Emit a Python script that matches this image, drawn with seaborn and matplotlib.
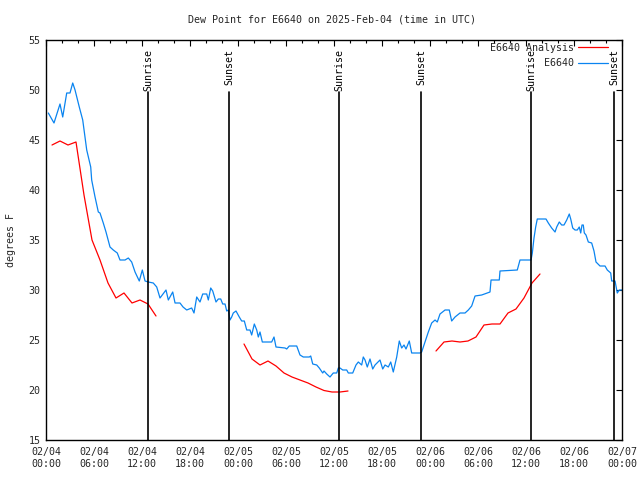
import matplotlib
matplotlib.use("Agg")
import matplotlib.pyplot as plt
import seaborn as sns
import pandas as pd
import numpy as np
from matplotlib.ticker import MultipleLocator, FixedLocator

# ---- data (hours since 2025-02-04 00:00 UTC) ----
obs_hours = [0.29, 1.0, 1.75, 2.09, 2.59, 3.0, 3.34, 3.63, 4.16, 4.59, 4.88, 5.09, 5.59, 5.71,
             6.13, 6.54, 6.75, 7.16, 7.5, 8.0, 8.41, 8.91, 9.25, 9.88, 10.29, 10.71, 11.13, 11.66,
             12.04, 12.38, 12.79, 13.41, 13.84, 14.25, 15.0, 15.29, 15.84, 16.13, 16.75, 17.13,
             17.59, 18.21, 18.5, 18.84, 19.25, 19.59, 20.09, 20.29, 20.59, 20.84, 21.25, 21.54,
             21.84, 22.09, 22.38, 22.59, 22.79, 23.0, 23.21, 23.41, 23.75, 24.16, 24.46, 24.79,
             25.09, 25.5, 25.71, 26.04, 26.34, 26.54, 26.75, 27.04, 28.21, 28.5, 28.75, 29.88,
             30.09, 30.41, 31.34, 31.75, 32.16, 32.91, 33.09, 33.34, 33.84, 34.16, 34.59, 34.75,
             35.09, 35.5, 35.91, 36.34, 36.54, 36.75, 37.09, 37.59, 37.79, 38.34, 38.75, 39.04,
             39.46, 39.66, 39.88, 40.16, 40.5, 40.84, 41.13, 41.75, 42.09, 42.38, 42.79, 43.09,
             43.41, 43.84, 44.16, 44.46, 44.75, 45.0, 45.41, 45.71, 46.75, 46.96, 47.38, 47.79,
             48.21, 48.63, 48.91, 49.25, 49.88, 50.41, 50.71, 51.13, 51.75, 52.38, 52.79, 53.21,
             53.63, 54.46, 55.5, 55.63, 56.66, 56.75, 58.91, 59.25, 60.63, 60.79, 61.0, 61.21,
             61.41, 62.5, 62.79, 63.21, 63.63, 63.84, 64.16, 64.46, 64.75, 65.09, 65.41, 65.59,
             65.84, 66.13, 66.41, 66.66, 66.84, 67.0, 67.16, 67.29, 67.5, 67.79, 68.21, 68.5,
             68.75, 69.25, 69.88, 70.16, 70.59, 70.71, 71.13, 71.41, 71.66, 72.0]
obs_dewpt = [47.7, 46.7, 48.6, 47.3, 49.7, 49.7, 50.7, 50.0, 48.3, 47.0, 45.3, 44.0, 42.3, 41.0,
             39.3, 37.8, 37.7, 36.7, 35.8, 34.3, 34.0, 33.7, 33.0, 33.0, 33.2, 32.8, 31.8, 30.9,
             32.0, 30.9, 30.8, 30.7, 30.3, 29.2, 30.0, 29.0, 29.8, 28.7, 28.7, 28.3,
             28.0, 28.2, 27.7, 29.3, 28.8, 29.6, 29.6, 29.0, 30.2, 29.9, 28.8, 29.1,
             29.1, 28.6, 28.6, 27.9, 28.0, 27.0, 27.3, 27.7, 27.9, 27.3, 26.9, 26.9,
             26.0, 26.0, 25.5, 26.6, 26.0, 25.3, 25.8, 24.8, 24.8, 25.3, 24.3, 24.2,
             24.1, 24.4, 24.4, 23.5, 23.3, 23.3, 23.4, 22.6, 22.5, 22.2, 21.7, 21.9,
             21.6, 21.3, 21.7, 21.7, 22.2, 22.2, 22.0, 22.0, 21.7, 21.7, 22.5, 22.8,
             22.5, 23.3, 23.0, 22.3, 23.1, 22.1, 22.5, 23.0, 22.1, 22.5, 22.3, 22.8,
             21.8, 23.3, 24.9, 24.2, 24.5, 24.1, 24.9, 23.7, 23.7, 23.8, 24.8, 25.8,
             26.7, 27.0, 26.8, 27.6, 28.0, 28.0, 26.9, 27.3, 27.7, 27.7, 28.0, 28.4,
             29.4, 29.5, 29.8, 31.0, 31.0, 31.9, 32.0, 33.0, 33.0, 33.7, 35.2, 36.3,
             37.1, 37.1, 36.7, 36.2, 35.8, 36.3, 36.8, 36.5, 36.5, 37.0, 37.6, 37.1,
             36.2, 36.0, 36.0, 36.3, 35.7, 36.5, 36.5, 35.7, 35.5, 34.8, 34.7, 33.9,
             32.8, 32.4, 32.4, 32.0, 31.7, 30.9, 30.9, 29.7, 30.0, 30.0]

ana_seg1_hours = [0.75, 1.75, 2.75, 3.75, 4.75, 5.75, 6.75, 7.75, 8.75, 9.75, 10.75, 11.75, 12.75, 13.75]
ana_seg1_dewpt = [44.5, 44.9, 44.5, 44.8, 39.5, 35.0, 33.0, 30.7, 29.2, 29.7, 28.7, 29.0, 28.6, 27.4]
ana_seg2_hours = [24.75, 25.75, 26.75, 27.75, 28.75, 29.75, 30.75, 31.75, 32.75, 33.75, 34.75, 35.75, 36.75, 37.75]
ana_seg2_dewpt = [24.6, 23.1, 22.5, 22.9, 22.4, 21.7, 21.3, 21.0, 20.7, 20.3, 19.95, 19.8, 19.8, 19.9]
ana_seg3_hours = [48.75, 49.75, 50.75, 51.75, 52.75, 53.75, 54.75, 55.75, 56.75, 57.75, 58.75, 59.75, 60.75, 61.75]
ana_seg3_dewpt = [23.9, 24.8, 24.9, 24.8, 24.9, 25.3, 26.5, 26.6, 26.6, 27.7, 28.1, 29.2, 30.7, 31.6]

sun_labels = ["Sunrise", "Sunset", "Sunrise", "Sunset", "Sunrise", "Sunset"]
sun_hours = [12.75, 22.88, 36.63, 46.88, 60.63, 71.0]

tick_hours = list(range(0, 73, 6))
tick_labels = ["02/04\n00:00", "02/04\n06:00", "02/04\n12:00", "02/04\n18:00",
               "02/05\n00:00", "02/05\n06:00", "02/05\n12:00", "02/05\n18:00",
               "02/06\n00:00", "02/06\n06:00", "02/06\n12:00", "02/06\n18:00",
               "02/07\n00:00"]

title = "Dew Point for E6640 on 2025-Feb-04 (time in UTC)"

# ---- style ----
sns.set_style("white")
FS = 7.2
plt.rcParams['font.family'] = ['DejaVu Sans Mono', 'DejaVu Sans']

fig = plt.figure(figsize=(6.4, 4.8), dpi=100)
ax = fig.add_axes([46/640, 40/480, 576/640, 400/480])

RED = "#ff0000"
BLUE = "#0a84f0"

segs = [(ana_seg1_hours, ana_seg1_dewpt), (ana_seg2_hours, ana_seg2_dewpt), (ana_seg3_hours, ana_seg3_dewpt)]
for i, (h, v) in enumerate(segs):
    sns.lineplot(x=h, y=v, ax=ax, color=RED, linewidth=0.9,
                 label="E6640 Analysis" if i == 0 else None, legend=False, estimator=None, sort=False)
sns.lineplot(x=obs_hours, y=obs_dewpt, ax=ax, color=BLUE, linewidth=0.9, label="E6640",
             legend=False, estimator=None, sort=False)

ax.set_xlim(0, 72)
ax.set_ylim(15, 55)

line_top = (440 - 92) / 400
for lab, h in zip(sun_labels, sun_hours):
    ax.axvline(h, ymin=0, ymax=line_top, color="black", linewidth=1.2)
    ax.text(h, 55 - (49 - 40) / 10, lab, rotation=90, ha="center", va="top",
            fontsize=FS, color="black")

ax.set_xticks(tick_hours)
ax.set_xticklabels(tick_labels, fontsize=FS, linespacing=1.3)
ax.xaxis.set_minor_locator(MultipleLocator(2))
ax.set_yticks(range(15, 56, 5))
ax.set_yticklabels([str(v) for v in range(15, 56, 5)], fontsize=FS)

ax.tick_params(axis="both", which="both", direction="in", top=True, right=True, color="black",
               width=0.8)
ax.tick_params(axis="x", which="major", length=4.5, pad=5)
ax.tick_params(axis="x", which="minor", length=2.5)
ax.tick_params(axis="y", which="major", length=4.5, pad=4)

for sp in ax.spines.values():
    sp.set_color("black")
    sp.set_linewidth(1.0)
    sp.set_visible(True)

ax.set_ylabel("degrees F", fontsize=FS, labelpad=6)
ax.yaxis.set_label_coords(-0.052, 0.5)
fig.text(332/640, 1 - 19/480, title, ha="center", va="center", fontsize=FS)

leg = ax.legend(loc="upper right", bbox_to_anchor=(1.0 - 10/576, 1.0 + 1/400), frameon=False,
                markerfirst=False, fontsize=FS, handlelength=3.0, handletextpad=0.4,
                labelspacing=0.55, borderaxespad=0.0)

fig.savefig("out.png", dpi=100)
